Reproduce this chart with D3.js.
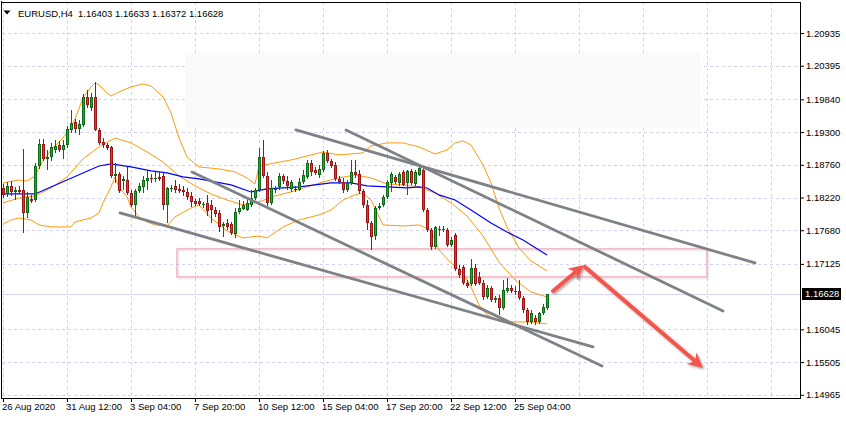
<!DOCTYPE html>
<html><head><meta charset="utf-8">
<script src="https://cdn.jsdelivr.net/npm/d3@7"></script>
<style>
html,body{margin:0;padding:0;background:#fff;}
svg{display:block;}
text{font-family:"Liberation Sans",Arial,sans-serif;font-size:9.5px;fill:#000;}
</style></head><body>
<svg id="chart" width="846" height="447"></svg>
<script>
// ---------- DATA ----------
const symbolTitle = "EURUSD,H4";
const lastOHLC = ["1.16403", "1.16633", "1.16372", "1.16628"];

const opens = [
1.18378,1.18279,1.18411,1.18312,1.18345,1.18345,1.17966,1.18197,1.18180,1.18741,
1.19104,1.18857,1.18890,1.19005,1.19088,1.19005,1.19088,1.19335,1.19467,1.19352,
1.19418,1.19880,1.19698,1.19880,1.19335,1.19137,1.19088,1.19055,1.18576,1.18609,
1.18494,1.18510,1.18296,1.18098,1.18329,1.18395,1.18494,1.18543,1.18527,1.18560,
1.18576,1.18098,1.18362,1.18411,1.18362,1.18345,1.18312,1.18246,1.18164,1.18164,
1.18098,1.18131,1.18098,1.18015,1.17966,1.17751,1.17801,1.17784,1.17619,1.17982,
1.18032,1.18015,1.18098,1.18213,1.18345,1.18890,1.18576,1.18131,1.18345,1.18395,
1.18576,1.18494,1.18362,1.18362,1.18345,1.18477,1.18560,1.18791,1.18675,1.18593,
1.18675,1.18956,1.18824,1.18758,1.18527,1.18477,1.18345,1.18461,1.18642,1.18609,
1.18329,1.18098,1.17801,1.17586,1.18048,1.18098,1.18230,1.18461,1.18560,1.18461,
1.18642,1.18461,1.18659,1.18444,1.18593,1.18675,1.18015,1.17685,1.17405,1.17685,
1.17685,1.17685,1.17438,1.17603,1.17042,1.17075,1.16811,1.16794,1.17058,1.16910,
1.16811,1.16580,1.16728,1.16530,1.16563,1.16398,1.16679,1.16728,1.16662,1.16679,
1.16563,1.16365,1.16167,1.16233,1.16167,1.16316,1.16403];
const highs = [
1.18444,1.18477,1.18494,1.18395,1.18411,1.19022,1.18312,1.18263,1.18791,1.19187,
1.19187,1.19005,1.19121,1.19170,1.19154,1.19170,1.19401,1.19665,1.19517,1.19500,
1.19929,1.19995,1.19946,1.20127,1.19368,1.19203,1.19121,1.19071,1.18791,1.18642,
1.18576,1.18725,1.18345,1.18362,1.18461,1.18576,1.18659,1.18609,1.18642,1.18642,
1.18642,1.18395,1.18428,1.18510,1.18444,1.18411,1.18378,1.18312,1.18197,1.18213,
1.18147,1.18263,1.18180,1.18065,1.18015,1.17817,1.17867,1.17817,1.18048,1.18180,
1.18164,1.18213,1.18345,1.18378,1.19038,1.19170,1.18642,1.18510,1.18411,1.18626,
1.18609,1.18576,1.18510,1.18411,1.18543,1.18675,1.18840,1.18840,1.18725,1.18758,
1.18989,1.19005,1.18857,1.18807,1.18576,1.18543,1.18510,1.18840,1.18840,1.18675,
1.18362,1.18180,1.17834,1.18081,1.18131,1.18263,1.18510,1.18642,1.18593,1.18642,
1.18675,1.18675,1.18692,1.18675,1.18725,1.18725,1.18048,1.17718,1.17751,1.17751,
1.17751,1.17718,1.17570,1.17636,1.17108,1.17108,1.16860,1.17207,1.17124,1.16992,
1.16860,1.16778,1.16761,1.16596,1.16613,1.16860,1.16893,1.16778,1.16761,1.16860,
1.16596,1.16398,1.16365,1.16283,1.16332,1.16464,1.16633];
const lows = [
1.18213,1.18230,1.18246,1.18180,1.18279,1.17636,1.17883,1.18131,1.18147,1.18692,
1.18824,1.18675,1.18824,1.18956,1.18972,1.18857,1.19038,1.19286,1.19286,1.19253,
1.19385,1.19698,1.19649,1.19319,1.19088,1.19038,1.19005,1.18543,1.18461,1.18296,
1.18345,1.18263,1.18065,1.17900,1.18296,1.18296,1.18345,1.18461,1.18477,1.18494,
1.18015,1.17801,1.18312,1.18296,1.18296,1.18246,1.18180,1.18065,1.18081,1.18081,
1.18048,1.17916,1.17801,1.17900,1.17652,1.17570,1.17685,1.17603,1.17553,1.17949,
1.18015,1.17999,1.18065,1.18180,1.18312,1.18543,1.18081,1.18098,1.18296,1.18345,
1.18444,1.18345,1.18312,1.18312,1.18329,1.18444,1.18527,1.18576,1.18593,1.18543,
1.18642,1.18791,1.18708,1.18494,1.18444,1.18296,1.18312,1.18428,1.18543,1.18279,
1.18048,1.17685,1.17355,1.17520,1.18015,1.18065,1.18197,1.18312,1.18444,1.18411,
1.18411,1.18263,1.18428,1.18411,1.18576,1.17982,1.17652,1.17355,1.17372,1.17586,
1.17652,1.17405,1.17405,1.17009,1.16893,1.16778,1.16728,1.16761,1.16761,1.16778,
1.16530,1.16547,1.16497,1.16481,1.16283,1.16365,1.16646,1.16646,1.16613,1.16530,
1.16316,1.16118,1.16134,1.16118,1.16134,1.16283,1.16372];
const closes = [
1.18263,1.18411,1.18312,1.18345,1.18312,1.17966,1.18230,1.18164,1.18741,1.19104,
1.18857,1.18890,1.19055,1.19071,1.19005,1.19088,1.19352,1.19451,1.19352,1.19434,
1.19880,1.19748,1.19880,1.19335,1.19121,1.19088,1.19038,1.18576,1.18609,1.18329,
1.18527,1.18296,1.18098,1.18329,1.18411,1.18510,1.18543,1.18527,1.18543,1.18527,
1.18098,1.18378,1.18378,1.18345,1.18329,1.18312,1.18230,1.18147,1.18114,1.18114,
1.18114,1.17999,1.18015,1.17949,1.17735,1.17784,1.17735,1.17636,1.17982,1.18048,
1.18098,1.18131,1.18213,1.18345,1.18890,1.18576,1.18131,1.18378,1.18362,1.18576,
1.18494,1.18411,1.18477,1.18345,1.18477,1.18593,1.18791,1.18642,1.18626,1.18692,
1.18956,1.18824,1.18741,1.18527,1.18477,1.18345,1.18461,1.18642,1.18593,1.18329,
1.18098,1.17801,1.17570,1.18048,1.18081,1.18230,1.18477,1.18609,1.18477,1.18609,
1.18428,1.18659,1.18461,1.18642,1.18708,1.18015,1.17685,1.17405,1.17735,1.17702,
1.17702,1.17438,1.17520,1.17042,1.16943,1.16811,1.16761,1.17058,1.16794,1.16811,
1.16580,1.16728,1.16530,1.16563,1.16398,1.16695,1.16728,1.16679,1.16679,1.16563,
1.16365,1.16167,1.16316,1.16167,1.16316,1.16415,1.16628];

// Bollinger bands and moving average: [bar index, price]
const bbUpper = [[0,1.18461],[4,1.18510],[6,1.18494],[8,1.18576],[10,1.18824],[12,1.19005],[15,1.19203],[17,1.19385],[18,1.19517],[20,1.19863],[22,1.20045],[23,1.20111],[24,1.20078],[26,1.19946],[27,1.19896],[29,1.19962],[32,1.20045],[35,1.20094],[37,1.20061],[40,1.19880],[42,1.19616],[44,1.19203],[46,1.18890],[49,1.18725],[54,1.18692],[58,1.18642],[61,1.18543],[63,1.18444],[64,1.18741],[68,1.18791],[72,1.18840],[76,1.18906],[80,1.18972],[84,1.18923],[90,1.18956],[92,1.19071],[96,1.19121],[100,1.19121],[104,1.19055],[108,1.18939],[111,1.19005],[113,1.19121],[115,1.19154],[117,1.19088],[120,1.18758],[122,1.18461],[124,1.18048],[126,1.17735],[129,1.17388],[132,1.17174],[136,1.17009]];
const bbMiddle = [[0,1.18131],[4,1.18213],[8,1.18246],[12,1.18378],[16,1.18560],[20,1.18857],[24,1.19055],[28,1.19203],[32,1.19121],[36,1.18972],[40,1.18807],[44,1.18576],[48,1.18411],[52,1.18279],[56,1.18180],[60,1.18098],[64,1.18147],[68,1.18246],[72,1.18312],[76,1.18395],[80,1.18477],[84,1.18543],[88,1.18593],[92,1.18543],[96,1.18444],[100,1.18428],[104,1.18395],[108,1.18296],[112,1.18131],[116,1.17916],[120,1.17586],[124,1.17157],[128,1.16860],[132,1.16662],[136,1.16580]];
const bbLower = [[0,1.17784],[2,1.17850],[4,1.17883],[7,1.17850],[9,1.17768],[12,1.17735],[17,1.17735],[18,1.17817],[22,1.17883],[24,1.17966],[25,1.18131],[27,1.18395],[28,1.18560],[29,1.18395],[31,1.18230],[32,1.18065],[34,1.17900],[36,1.17817],[38,1.17768],[41,1.17751],[43,1.17900],[47,1.18048],[49,1.18098],[52,1.17883],[56,1.17669],[60,1.17553],[64,1.17586],[66,1.17553],[70,1.17735],[74,1.17850],[79,1.17933],[82,1.18015],[85,1.18180],[88,1.18263],[90,1.18296],[92,1.18180],[95,1.17768],[100,1.17751],[104,1.17768],[107,1.17685],[109,1.17355],[112,1.17141],[115,1.16976],[117,1.16745],[119,1.16448],[121,1.16283],[124,1.16184],[128,1.16167],[132,1.16167],[136,1.16134]];
const maBlue = [[0,1.18279],[8,1.18279],[12,1.18395],[16,1.18510],[20,1.18626],[24,1.18741],[27,1.18774],[32,1.18725],[37,1.18659],[41,1.18626],[45,1.18560],[49,1.18527],[53,1.18477],[57,1.18428],[62,1.18312],[66,1.18362],[70,1.18378],[74,1.18395],[82,1.18461],[87,1.18461],[91,1.18411],[96,1.18395],[101,1.18378],[104,1.18395],[106,1.18378],[109,1.18263],[113,1.18180],[117,1.18015],[122,1.17801],[126,1.17652],[130,1.17520],[136,1.17273]];

// Axis labels
const timeLabels = ["26 Aug 2020","31 Aug 12:00","3 Sep 04:00","7 Sep 20:00","10 Sep 12:00","15 Sep 04:00","17 Sep 20:00","22 Sep 12:00","25 Sep 04:00"];
const timeLabelBars = [0,16,32,48,64,80,96,112,128];
const gridBars = [0,16,32,48,64,80,96,112,128,144,160,176,192];
const priceTicks = [1.20935,1.20395,1.19840,1.19300,1.18760,1.18220,1.17680,1.17125,1.16045,1.15505,1.14965];
const priceTickLabels = ["1.20935","1.20395","1.19840","1.19300","1.18760","1.18220","1.17680","1.17125","1.16045","1.15505","1.14965"];

// Drawn objects (bar index, price)
const trendLines = [
  [[29.25,1.17966],[147.5,1.15755]],
  [[47.25,1.18642],[149.75,1.15441]],
  [[73.25,1.19335],[188,1.17141]],
  [[85.75,1.19335],[180,1.16349]]
];
const greyZone = {i0:45.5, i1:174.25, p0:1.19368, p1:1.20606};
const pinkZone = {i0:43.5, i1:176, p0:1.16910, p1:1.17372};
const arrows = [
  [[137.5,1.16679],[145.25,1.17108]],
  [[145.5,1.17075],[175,1.15408]]
];

// ---------- CHART ----------
const svg = d3.select("#chart");
const plot = {left:2, right:800, top:2, bottom:398};
const xs = d3.scaleLinear().domain([0,136]).range([3,547]);
const ys = d3.scaleLinear().domain([1.14965,1.20935]).range([394.8,33.0]);

const defs = svg.append("defs");
defs.append("clipPath").attr("id","plotClip").append("rect")
  .attr("x",plot.left).attr("y",plot.top).attr("width",plot.right-plot.left).attr("height",plot.bottom-plot.top);
const sh = defs.append("filter").attr("id","shadow").attr("x","-30%").attr("y","-30%").attr("width","160%").attr("height","160%");
sh.append("feDropShadow").attr("dx",1.5).attr("dy",1.5).attr("stdDeviation",1.3).attr("flood-color","#000").attr("flood-opacity",0.35);
const sh2 = defs.append("filter").attr("id","softshadow").attr("x","-5%").attr("y","-30%").attr("width","110%").attr("height","160%");
sh2.append("feDropShadow").attr("dx",1).attr("dy",1).attr("stdDeviation",1).attr("flood-color","#000").attr("flood-opacity",0.18);

const g = svg.append("g").attr("clip-path","url(#plotClip)");

// grid
g.selectAll("line.hg").data(priceTicks).join("line").attr("class","hg")
  .attr("x1",plot.left).attr("x2",plot.right)
  .attr("y1",d=>Math.round(ys(d))+0.5).attr("y2",d=>Math.round(ys(d))+0.5)
  .attr("stroke","#d2d2ee").attr("stroke-dasharray","3,3").attr("shape-rendering","crispEdges");
g.selectAll("line.vg").data(gridBars).join("line").attr("class","vg")
  .attr("x1",d=>Math.round(xs(d))+0.5).attr("x2",d=>Math.round(xs(d))+0.5)
  .attr("y1",plot.top).attr("y2",plot.bottom)
  .attr("stroke","#d2d2ee").attr("stroke-dasharray","3,3").attr("shape-rendering","crispEdges");

// grey faint zone
g.append("rect")
  .attr("x",xs(greyZone.i0)).attr("width",xs(greyZone.i1)-xs(greyZone.i0))
  .attr("y",ys(greyZone.p1)).attr("height",ys(greyZone.p0)-ys(greyZone.p1))
  .attr("fill","#fafafa");

// bid line
const lastClose = closes[closes.length-1];
g.append("line").attr("x1",plot.left).attr("x2",plot.right)
  .attr("y1",Math.round(ys(lastClose))+0.5).attr("y2",Math.round(ys(lastClose))+0.5)
  .attr("stroke","#d6d6ee").attr("shape-rendering","crispEdges");

// pink zone
g.append("rect")
  .attr("x",xs(pinkZone.i0)).attr("width",xs(pinkZone.i1)-xs(pinkZone.i0))
  .attr("y",ys(pinkZone.p1)).attr("height",ys(pinkZone.p0)-ys(pinkZone.p1))
  .attr("fill","none").attr("stroke","#f0a3b4").attr("stroke-width",1.2)
  .attr("filter","url(#softshadow)");

// Bollinger + MA
const line = d3.line().x(d=>xs(d[0])).y(d=>ys(d[1]));
[bbUpper,bbMiddle,bbLower].forEach(b=>{
  g.append("path").datum(b).attr("d",line).attr("fill","none").attr("stroke","#ff9a0a").attr("stroke-width",1);
});
g.append("path").datum(maBlue).attr("d",line).attr("fill","none").attr("stroke","#0000ff").attr("stroke-width",1.2);

// candles
const candles = d3.range(opens.length).map(i=>({i,o:opens[i],h:highs[i],l:lows[i],c:closes[i]}));
const cg = g.append("g").attr("shape-rendering","crispEdges");
candles.forEach(d=>{
  const cx = Math.round(xs(d.i));
  const up = d.c >= d.o;
  const border = up ? "#0a6b14" : "#9e1414";
  const fill = up ? "#1fae2e" : "#e8342f";
  const yh = Math.round(ys(d.h)), yl = Math.round(ys(d.l));
  cg.append("rect").attr("x",cx).attr("width",1).attr("y",yh).attr("height",Math.max(1,yl-yh)).attr("fill",border);
  const yt = Math.round(ys(Math.max(d.o,d.c))), yb = Math.round(ys(Math.min(d.o,d.c)));
  const bh = Math.max(1,yb-yt);
  cg.append("rect").attr("x",cx-1).attr("width",3).attr("y",yt).attr("height",bh).attr("fill",border);
  if (bh>2) cg.append("rect").attr("x",cx).attr("width",1).attr("y",yt+1).attr("height",bh-2).attr("fill",fill);
});

// trend lines
g.selectAll("line.tl").data(trendLines).join("line").attr("class","tl")
  .attr("x1",d=>xs(d[0][0])).attr("y1",d=>ys(d[0][1]))
  .attr("x2",d=>xs(d[1][0])).attr("y2",d=>ys(d[1][1]))
  .attr("stroke","#7e8286").attr("stroke-width",2.8).attr("stroke-linecap","round");

// arrows
const ag = g.append("g").attr("filter","url(#shadow)");
arrows.forEach(a=>{
  const x1=xs(a[0][0]), y1=ys(a[0][1]), x2=xs(a[1][0]), y2=ys(a[1][1]);
  const dx=x2-x1, dy=y2-y1, len=Math.hypot(dx,dy), ux=dx/len, uy=dy/len, nx=-uy, ny=ux;
  const L=15, Wd=7.5;
  ag.append("line").attr("x1",x1).attr("y1",y1).attr("x2",x2-ux*L*0.6).attr("y2",y2-uy*L*0.6)
    .attr("stroke","#f4544c").attr("stroke-width",4).attr("stroke-linecap","round");
  const pts=[[x2,y2],[x2-ux*L+nx*Wd,y2-uy*L+ny*Wd],[x2-ux*L*0.7,y2-uy*L*0.7],[x2-ux*L-nx*Wd,y2-uy*L-ny*Wd]];
  ag.append("polygon").attr("points",pts.map(p=>p.join(",")).join(" ")).attr("fill","#f4544c");
});

// frame
const fr = svg.append("g").attr("shape-rendering","crispEdges").attr("stroke","#000");
fr.append("line").attr("x1",1.5).attr("x2",1.5).attr("y1",1).attr("y2",plot.bottom+0.5);
fr.append("line").attr("x1",1.5).attr("x2",plot.right+0.5).attr("y1",plot.bottom+0.5).attr("y2",plot.bottom+0.5);
fr.append("line").attr("x1",plot.right+0.5).attr("x2",plot.right+0.5).attr("y1",2).attr("y2",plot.bottom+0.5);
fr.append("line").attr("x1",1.5).attr("x2",plot.right+0.5).attr("y1",2.5).attr("y2",2.5);

// price axis
const yAxis = d3.axisRight(ys).tickValues(priceTicks).tickSize(4).tickPadding(2)
  .tickFormat((d,i)=>priceTickLabels[i]);
const ya = svg.append("g").attr("transform",`translate(${plot.right},0)`).call(yAxis);
ya.select(".domain").remove();
ya.selectAll("text").attr("font-size",9.5).attr("font-family","Liberation Sans, Arial, sans-serif").attr("fill","#000");
ya.selectAll("line").attr("stroke","#000");

// time axis
const xAxis = d3.axisBottom(xs).tickValues(timeLabelBars).tickSize(4).tickPadding(1)
  .tickFormat((d,i)=>timeLabels[i]);
const xa = svg.append("g").attr("transform",`translate(0,${plot.bottom})`).call(xAxis);
xa.select(".domain").remove();
xa.selectAll("text").attr("text-anchor","start").attr("dx",-1.5).attr("font-size",9.5)
  .attr("font-family","Liberation Sans, Arial, sans-serif").attr("fill","#000");
xa.selectAll("line").attr("stroke","#000");

// current price box
const yc = ys(lastClose);
svg.append("rect").attr("x",plot.right+2).attr("y",Math.round(yc)-6).attr("width",39).attr("height",12).attr("fill","#000");
svg.append("text").attr("x",plot.right+5).attr("y",yc).attr("dy","0.34em").style("fill","#fff").text(lastOHLC[3]);

// header
svg.append("polygon").attr("points","3.5,10.5 10.5,10.5 7,14.5").attr("fill","#000");
svg.append("text").attr("x",18).attr("y",17).text(symbolTitle);
svg.append("text").attr("x",78).attr("y",17).text(lastOHLC.join(" "));
</script>
</body></html>
